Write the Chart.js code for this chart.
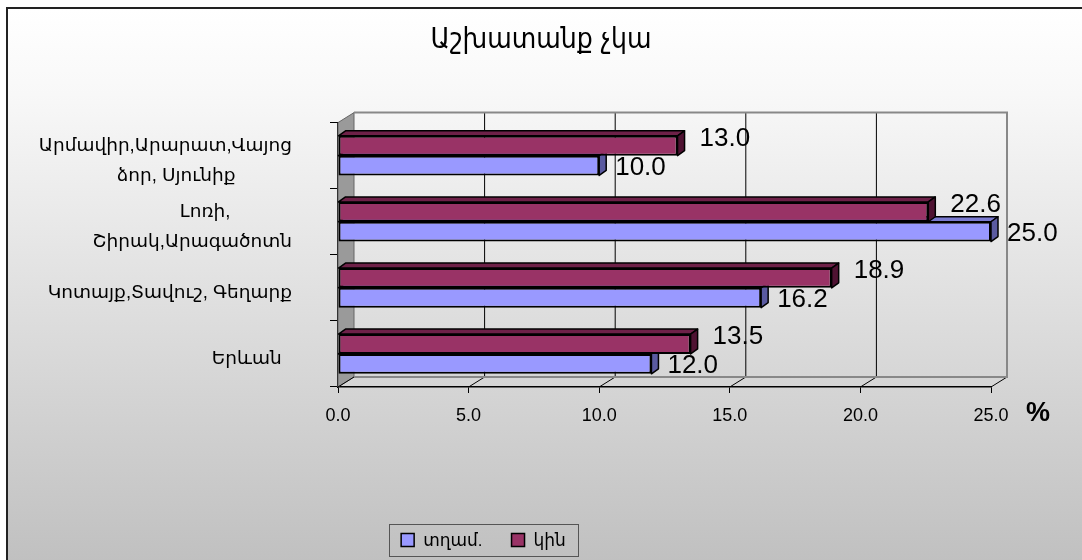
<!DOCTYPE html>
<html>
<head>
<meta charset="utf-8">
<script src="https://cdn.jsdelivr.net/npm/chart.js@4.4.1/dist/chart.umd.min.js"></script>
<style>
  html, body { margin: 0; padding: 0; background: #fff; }
  #wrap { position: relative; width: 1082px; height: 560px; overflow: hidden; }
  #frame { position: absolute; left: 6px; top: 7px; width: 1100px; height: 600px;
    border-left: 2px solid #222; border-top: 2px solid #222;
    background: linear-gradient(to bottom, #ffffff 0px, #f8f8f8 85px, #c0c0c0 553px); }
  canvas { position: absolute; left: 0; top: 0; }
</style>
</head>
<body>
<div id="wrap">
  <div id="frame"></div>
  <canvas id="chart" width="1082" height="560"></canvas>
</div>
<script>
const titleText = 'Աշխատանք չկա';
const regions = [
    ['Արմավիր,Արարատ,Վայոց', 'ձոր, Սյունիք           '],
    ['Լոռի,            ', 'Շիրակ,Արագածոտն'],
    'Կոտայք,Տավուշ, Գեղարք',
    'Երևան  '
];
const seriesNames = ['տղամ.', 'կին'];
const menValues = [10.0, 25.0, 16.2, 12.0];
const womenValues = [13.0, 22.6, 18.9, 13.5];
const xTickLabels = ['0.0', '5.0', '10.0', '15.0', '20.0', '25.0'];
const unitLabel = '%';

const FONT = "'Liberation Sans', 'DejaVu Sans', sans-serif";
const TITLE_FONT = "'DejaVu Sans Condensed', 'DejaVu Sans', sans-serif";
const wall = { dx: 16, dy: -10 };
const bar3d = { dx: 7, dy: -5 };

// side wall, floor and back gridlines of the 3D box
const wallPlugin = {
    id: 'wall',
    beforeDatasetsDraw(chart) {
        const ctx = chart.ctx;
        const xs = chart.scales.x;
        const { left, right, top, bottom } = chart.chartArea;
        ctx.save();
        ctx.fillStyle = '#9a9a9a';
        ctx.strokeStyle = '#666';
        ctx.lineWidth = 1;
        ctx.beginPath();
        ctx.moveTo(left, top);
        ctx.lineTo(left + wall.dx, top + wall.dy);
        ctx.lineTo(left + wall.dx, bottom + wall.dy);
        ctx.lineTo(left, bottom);
        ctx.closePath();
        ctx.fill();
        ctx.stroke();

        xs.ticks.forEach(t => {
            const px = xs.getPixelForValue(t.value);
            ctx.strokeStyle = '#000';
            ctx.lineWidth = 1;
            ctx.beginPath();
            ctx.moveTo(px, bottom);
            ctx.lineTo(px + wall.dx, bottom + wall.dy);
            if (t.value > 0 && t.value < xs.max) {
                ctx.lineTo(px + wall.dx, top + wall.dy);
            }
            ctx.stroke();
        });

        ctx.strokeStyle = '#888';
        ctx.lineWidth = 2;
        ctx.beginPath();
        ctx.moveTo(left + wall.dx, bottom + wall.dy);
        ctx.lineTo(right + wall.dx, bottom + wall.dy);
        ctx.lineTo(right + wall.dx, top + wall.dy);
        ctx.lineTo(left + wall.dx, top + wall.dy);
        ctx.stroke();
        ctx.restore();
    }
};

// top and end faces of every bar
const barFacesPlugin = {
    id: 'barFaces',
    afterDatasetDraw(chart, args) {
        const ctx = chart.ctx;
        const ds = chart.data.datasets[args.index];
        ctx.save();
        ctx.strokeStyle = '#000';
        ctx.lineWidth = 1.5;
        ctx.lineJoin = 'round';
        args.meta.data.forEach(el => {
            const t = el.y - el.height / 2;
            const b = el.y + el.height / 2;
            ctx.fillStyle = ds.topColor;
            ctx.beginPath();
            ctx.moveTo(el.base, t);
            ctx.lineTo(el.base + bar3d.dx, t + bar3d.dy);
            ctx.lineTo(el.x + bar3d.dx, t + bar3d.dy);
            ctx.lineTo(el.x, t);
            ctx.closePath();
            ctx.fill();
            ctx.stroke();
            ctx.fillStyle = ds.sideColor;
            ctx.beginPath();
            ctx.moveTo(el.x, t);
            ctx.lineTo(el.x + bar3d.dx, t + bar3d.dy);
            ctx.lineTo(el.x + bar3d.dx, b + bar3d.dy);
            ctx.lineTo(el.x, b);
            ctx.closePath();
            ctx.fill();
            ctx.stroke();
        });
        ctx.restore();
    }
};

const valueLabelPlugin = {
    id: 'valueLabels',
    afterDatasetsDraw(chart) {
        const ctx = chart.ctx;
        ctx.save();
        ctx.font = '26px ' + FONT;
        ctx.fillStyle = '#000';
        ctx.textAlign = 'left';
        ctx.textBaseline = 'middle';
        chart.data.datasets.forEach((ds, i) => {
            chart.getDatasetMeta(i).data.forEach((el, j) => {
                ctx.fillText(ds.data[j].toFixed(1), el.x + ds.labelShift[0], el.y + ds.labelShift[1]);
            });
        });
        const xs = chart.scales.x;
        ctx.font = 'bold 27px ' + FONT;
        ctx.textAlign = 'center';
        ctx.fillText(unitLabel, xs.right + 47, chart.chartArea.bottom + 27);
        ctx.restore();
    }
};

const boxLegendPlugin = {
    id: 'boxLegend',
    afterDraw(chart) {
        const ctx = chart.ctx;
        const items = chart.data.datasets.slice().reverse();
        const box = 13, gap = 9, between = 29, pad = 12;
        ctx.save();
        ctx.font = '17px ' + FONT;
        const widths = items.map(ds => box + gap + ctx.measureText(ds.label).width);
        const total = pad * 2 + widths.reduce((a, b) => a + b, 0) + between * (items.length - 1);
        const cx = 483.5, cy = 540, h = 32;
        let x = cx - total / 2;
        ctx.strokeStyle = '#555';
        ctx.lineWidth = 1;
        ctx.strokeRect(Math.round(x) + 0.5, cy - h / 2 + 0.5, Math.round(total), h);
        x += pad;
        items.forEach((ds, i) => {
            ctx.fillStyle = ds.backgroundColor;
            ctx.fillRect(x, cy - box / 2, box, box);
            ctx.strokeStyle = '#000';
            ctx.lineWidth = 1.5;
            ctx.strokeRect(x, cy - box / 2, box, box);
            ctx.fillStyle = '#000';
            ctx.textBaseline = 'middle';
            ctx.fillText(ds.label, x + box + gap, cy + 1);
            x += widths[i] + between;
        });
        ctx.restore();
    }
};

new Chart(document.getElementById('chart'), {
    type: 'bar',
    data: {
        labels: regions,
        datasets: [
            {
                label: seriesNames[1],
                data: womenValues,
                backgroundColor: '#993366',
                topColor: '#6e2148',
                sideColor: '#4f1232',
                labelShift: [22, -7],
                borderColor: '#000',
                borderWidth: 2,
                borderSkipped: false
            },
            {
                label: seriesNames[0],
                data: menValues,
                backgroundColor: '#9999ff',
                topColor: '#7a7ad0',
                sideColor: '#5a5aa0',
                labelShift: [16, 2],
                borderColor: '#000',
                borderWidth: 2,
                borderSkipped: false
            }
        ]
    },
    options: {
        responsive: false,
        animation: false,
        indexAxis: 'y',
        categoryPercentage: 0.6,
        barPercentage: 1.0,
        layout: { padding: 0 },
        plugins: {
            legend: { display: false },
            tooltip: { enabled: false },
            title: {
                display: true,
                text: titleText,
                color: '#000',
                font: { family: TITLE_FONT, size: 28, weight: 'normal' },
                padding: { top: 24, bottom: 65 }
            }
        },
        scales: {
            x: {
                min: 0,
                max: 25,
                ticks: {
                    stepSize: 5,
                    color: '#000',
                    font: { family: FONT, size: 18 },
                    padding: 12,
                    callback: (v, i) => xTickLabels[i]
                },
                grid: { drawOnChartArea: false, tickLength: 6, color: '#000', lineWidth: 1 },
                border: { color: '#000', width: 1.5 },
                afterFit: s => { s.height = 173; }
            },
            y: {
                ticks: {
                    color: '#000',
                    font: { family: FONT, size: 18.5, lineHeight: 1.6 },
                    padding: 38,
                    labelOffset: 5
                },
                grid: { drawOnChartArea: false, offset: true, tickLength: 8, color: '#000', lineWidth: 1 },
                border: { color: '#000', width: 1.5 },
                afterFit: s => { s.width = 338; }
            },
            // keeps the space on the right free for the value labels and the unit
            spacer: {
                type: 'linear',
                position: 'right',
                display: true,
                ticks: { display: false },
                grid: { display: false },
                border: { display: false },
                afterFit: s => { s.width = 91; }
            }
        }
    },
    plugins: [wallPlugin, barFacesPlugin, valueLabelPlugin, boxLegendPlugin]
});
</script>
</body>
</html>
